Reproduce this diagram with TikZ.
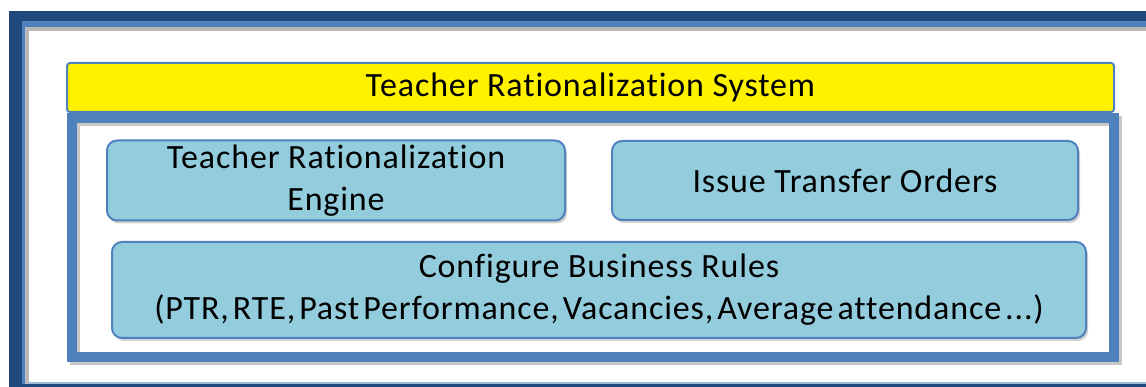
\documentclass[tikz,border=0pt]{standalone}
\usepackage{fontspec}
\setmainfont{Carlito}[Ligatures=NoCommon, LetterSpace=2.5]
\usetikzlibrary{shadows}

\definecolor{frameblue}{HTML}{1F497D}
\definecolor{accent}{HTML}{4F81BD}
\definecolor{boxfill}{HTML}{93CDDD}

\tikzset{
  modbox/.style={draw=accent, line width=2pt, fill=boxfill, rounded corners=10pt,
    align=center, inner sep=0pt,
    drop shadow={shadow xshift=2pt, shadow yshift=-3pt, opacity=0.18, fill=black}},
  titlebar/.style={draw=accent, line width=2pt, fill=yellow, rounded corners=3pt,
    inner sep=0pt}
}

\begin{document}
\begin{tikzpicture}[x=1pt, y=-1pt, font=\fontsize{34}{42}\selectfont]
    \useasboundingbox (0,0) rectangle (1146,387);
    % outer frame
    \fill[frameblue] (9,11) rectangle (1160,400);
    \fill[accent] (22,21) rectangle (1150,384);
    \fill[black!28] (25,27) rectangle (1148,384);
    \fill[white] (29,31) rectangle (1146,382);
    \fill[accent!55] (29,382) rectangle (1146,384);
    % container
    \draw[black!22, line width=10pt] (75,121) rectangle (1117,360);
    \draw[accent, line width=10pt] (72,118) rectangle (1114,357);
    \node[titlebar, minimum width=1047, minimum height=49] (title) at (590.5,87.5)
        {Teacher Rationalization System};
    \node[modbox, minimum width=458, minimum height=80] (engine) at (336,180.5)
        {Teacher Rationalization\\Engine};
    \node[modbox, minimum width=466, minimum height=79] (orders) at (845,180.5)
        {Issue Transfer Orders};
    \node[modbox, minimum width=974, minimum height=96] (rules) at (599,290)
        {Configure Business Rules\\{\spaceskip=4pt (PTR, RTE, Past Performance, Vacancies, Average attendance ...)}};
\end{tikzpicture}
\end{document}
